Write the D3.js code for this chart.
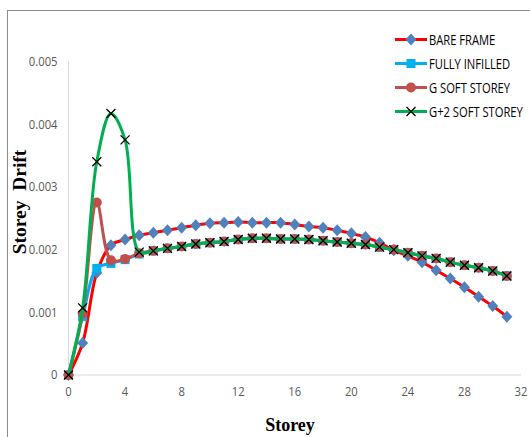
<!DOCTYPE html>
<html>
<head>
<meta charset="utf-8">
<script src="https://cdn.jsdelivr.net/npm/d3@7"></script>
<style>
  body { margin: 0; background: #fff; }
  svg { display: block; }
</style>
</head>
<body>
<div id="chart"></div>
<script>
(function () {
    'use strict';

    const storeys = d3.range(0, 32);
    const xTicks = [0, 4, 8, 12, 16, 20, 24, 28, 32];
    const yTicks = [0, 0.001, 0.002, 0.003, 0.004, 0.005];

    const bareFrame = [0, 0.00051, 0.00163, 0.00207, 0.00216, 0.00223, 0.00227, 0.00231, 0.00235, 0.00239,
        0.00242, 0.00243, 0.00244, 0.00243, 0.00243, 0.00243, 0.0024, 0.00237, 0.00235, 0.00231,
        0.00226, 0.0022, 0.00211, 0.00199, 0.0019, 0.0018, 0.00167, 0.00154, 0.0014, 0.00125, 0.0011, 0.00093];
    const fullyInfilled = [0, 0.00093, 0.0017, 0.00178, 0.00184, 0.00193, 0.00198, 0.00202, 0.00205, 0.00209,
        0.00211, 0.00213, 0.00216, 0.00218, 0.00218, 0.00217, 0.00217, 0.00216, 0.00214, 0.00212,
        0.0021, 0.00208, 0.00204, 0.002, 0.00195, 0.0019, 0.00186, 0.0018, 0.00175, 0.00171, 0.00166, 0.00158];
    const gSoft = [0, 0.00098, 0.00275, 0.00183, 0.00185, 0.00194, 0.00198, 0.00202, 0.00205, 0.00209,
        0.00211, 0.00213, 0.00216, 0.00218, 0.00218, 0.00217, 0.00217, 0.00216, 0.00214, 0.00212,
        0.0021, 0.00208, 0.00204, 0.002, 0.00195, 0.0019, 0.00186, 0.0018, 0.00175, 0.00171, 0.00166, 0.00158];
    const g2Soft = [0, 0.00107, 0.0034, 0.00417, 0.00375, 0.00196, 0.00198, 0.00202, 0.00205, 0.00209,
        0.00211, 0.00213, 0.00216, 0.00218, 0.00218, 0.00217, 0.00217, 0.00216, 0.00214, 0.00212,
        0.0021, 0.00208, 0.00204, 0.002, 0.00195, 0.0019, 0.00186, 0.0018, 0.00175, 0.00171, 0.00166, 0.00158];

    const seriesNames = ['BARE FRAME', 'FULLY INFILLED', 'G SOFT STOREY', 'G+2 SOFT STOREY'];
    const seriesValues = [bareFrame, fullyInfilled, gSoft, g2Soft];
    const lineColors = ['#ff0000', '#00b0f0', '#c0504d', '#00b050'];
    const markerColors = ['#4f81bd', '#00b0f0', '#c0504d', '#000000'];
    const markerTypes = ['diamond', 'square', 'circle', 'cross'];

    const width = 530, height = 437;
    const margin = { left: 68.5, right: 9, top: 61.5, bottom: 62 };

    const svg = d3.select('#chart').append('svg')
        .attr('width', width)
        .attr('height', height);

    // outer frame
    svg.append('rect')
        .attr('x', 7.5).attr('y', 10.5)
        .attr('width', width + 10).attr('height', height + 10)
        .attr('fill', 'none')
        .attr('stroke', '#8c8c8c')
        .attr('stroke-width', 1);

    const x = d3.scaleLinear().domain([0, 32]).range([margin.left, width - margin.right]);
    const y = d3.scaleLinear().domain([0, 0.005]).range([height - margin.bottom, margin.top]);

    // axis lines
    svg.append('line')
        .attr('x1', x(0)).attr('x2', x(0))
        .attr('y1', y(0.005)).attr('y2', y(0))
        .attr('stroke', '#d9d9d9');
    svg.append('line')
        .attr('x1', x(0)).attr('x2', x(32))
        .attr('y1', y(0)).attr('y2', y(0))
        .attr('stroke', '#d9d9d9');

    const tickFont = '"Open Sans", sans-serif';

    svg.append('g')
        .selectAll('text')
        .data(yTicks)
        .join('text')
        .attr('transform', d => `translate(${x(0) - 11},${y(d)}) scale(0.9,1)`)
        .attr('dy', '0.35em')
        .attr('text-anchor', 'end')
        .attr('font-family', tickFont)
        .attr('font-size', 12.5)
        .attr('fill', '#595959')
        .text(d => d === 0 ? '0' : d3.format('.3f')(d));

    svg.append('g')
        .selectAll('text')
        .data(xTicks)
        .join('text')
        .attr('transform', d => `translate(${x(d)},${y(0) + 21}) scale(0.9,1)`)
        .attr('text-anchor', 'middle')
        .attr('font-family', tickFont)
        .attr('font-size', 12.5)
        .attr('fill', '#595959')
        .text(d => d);

    // axis titles
    svg.append('text')
        .attr('transform', `translate(26,202) rotate(-90)`)
        .attr('text-anchor', 'middle')
        .attr('font-family', '"Liberation Serif", serif')
        .attr('font-weight', 'bold')
        .attr('font-size', 19.5)
        .attr('fill', '#000')
        .attr('xml:space', 'preserve')
        .text('Storey  Drift');

    svg.append('text')
        .attr('x', 290)
        .attr('y', 431)
        .attr('text-anchor', 'middle')
        .attr('font-family', '"Liberation Serif", serif')
        .attr('font-weight', 'bold')
        .attr('font-size', 18)
        .attr('fill', '#000')
        .text('Storey');

    const line = d3.line()
        .x((d, i) => x(storeys[i]))
        .y(d => y(d))
        .curve(d3.curveCatmullRom.alpha(0.5));

    function drawMarker(g, type, color, cx, cy) {
        if (type === 'diamond') {
            g.append('path')
                .attr('d', `M${cx},${cy - 6}L${cx + 5.5},${cy}L${cx},${cy + 6}L${cx - 5.5},${cy}Z`)
                .attr('fill', color);
        } else if (type === 'square') {
            g.append('rect')
                .attr('x', cx - 4.5).attr('y', cy - 4.5)
                .attr('width', 9).attr('height', 9)
                .attr('fill', color);
        } else if (type === 'circle') {
            g.append('circle')
                .attr('cx', cx).attr('cy', cy).attr('r', 5)
                .attr('fill', color);
        } else {
            g.append('path')
                .attr('d', `M${cx - 4.5},${cy - 4.5}L${cx + 4.5},${cy + 4.5}M${cx + 4.5},${cy - 4.5}L${cx - 4.5},${cy + 4.5}`)
                .attr('stroke', color)
                .attr('stroke-width', 1.3)
                .attr('fill', 'none');
        }
    }

    seriesValues.forEach((vals, s) => {
        const g = svg.append('g');
        g.append('path')
            .datum(vals)
            .attr('d', line)
            .attr('fill', 'none')
            .attr('stroke', lineColors[s])
            .attr('stroke-width', 3);
        vals.forEach((v, i) => drawMarker(g, markerTypes[s], markerColors[s], x(storeys[i]), y(v)));
    });

    // legend
    const legend = svg.append('g');
    seriesNames.forEach((name, s) => {
        const ly = 39.5 + s * 24;
        legend.append('line')
            .attr('x1', 395).attr('x2', 427)
            .attr('y1', ly).attr('y2', ly)
            .attr('stroke', lineColors[s])
            .attr('stroke-width', 3);
        drawMarker(legend, markerTypes[s], markerColors[s], 411, ly);
        legend.append('text')
            .attr('transform', `translate(429,${ly}) scale(0.8,1)`)
            .attr('dy', '0.36em')
            .attr('font-family', tickFont)
            .attr('font-size', 14)
            .attr('fill', '#000')
            .text(name);
    });
})();
</script>
</body>
</html>
